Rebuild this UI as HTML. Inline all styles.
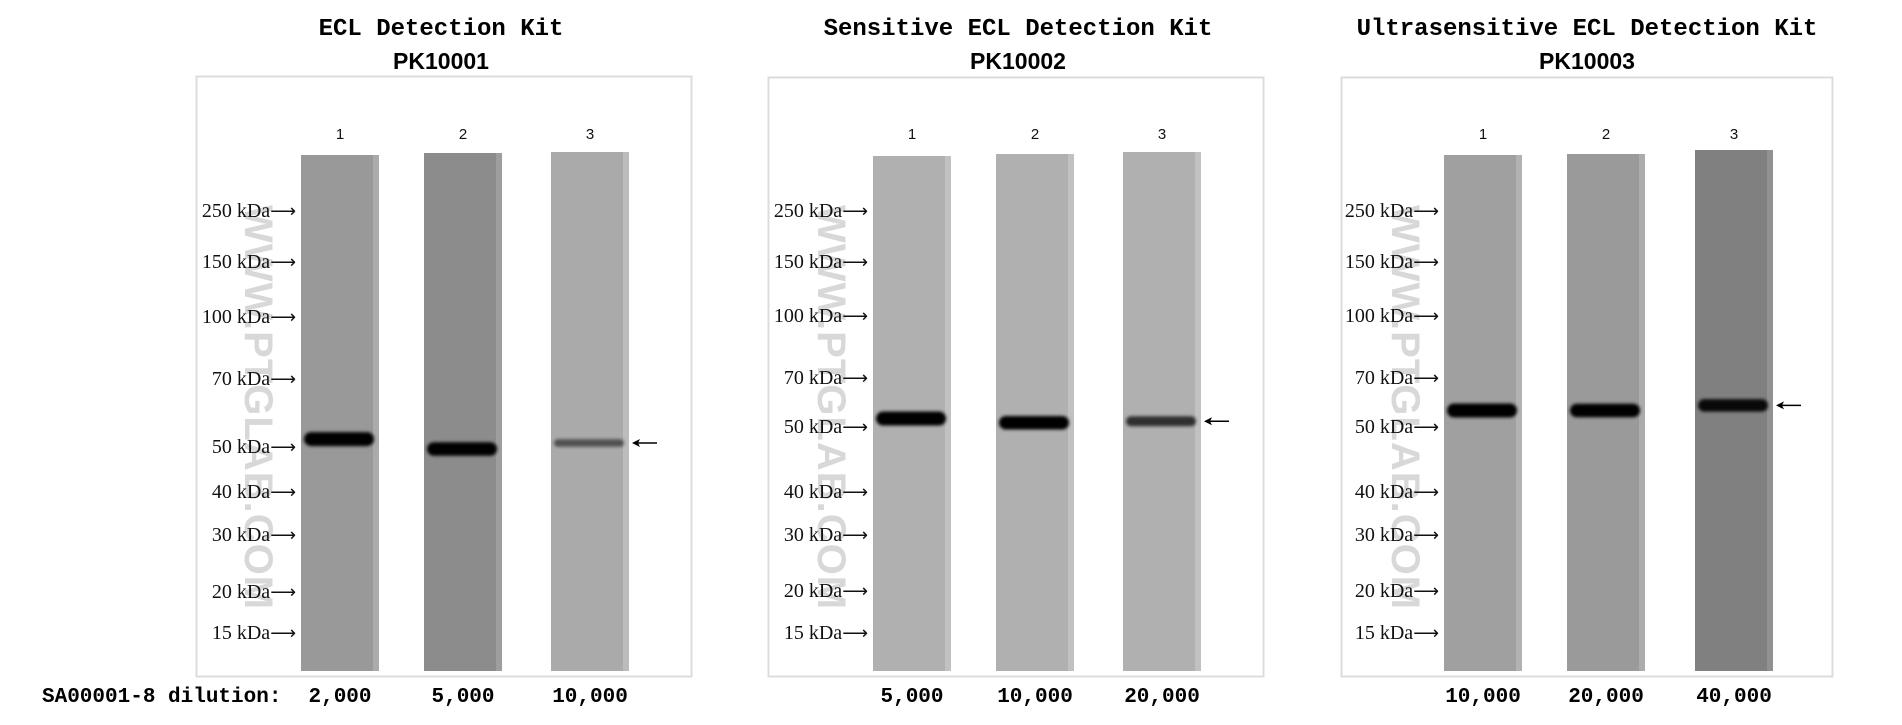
<!DOCTYPE html>
<html><head><meta charset="utf-8">
<style>
html,body{margin:0;padding:0;background:#fff;}
svg{display:block;}
.title{font-family:"Liberation Mono",monospace;font-weight:bold;font-size:24px;fill:#000;}
.pk{font-family:"Liberation Sans",sans-serif;font-weight:bold;font-size:23px;fill:#000;}
.kda{font-family:"Liberation Serif",serif;font-size:20px;fill:#111;}
.arw{font-family:"DejaVu Sans",sans-serif;font-size:18px;}
.num{font-family:"Liberation Sans",sans-serif;font-size:15px;fill:#111;}
.dil{font-family:"Liberation Mono",monospace;font-weight:bold;font-size:21px;fill:#000;}
.wm{font-family:"Liberation Sans",sans-serif;font-weight:bold;font-size:40px;fill:#ccc;opacity:0.75;}
</style></head>
<body>
<svg id="chart" width="1902" height="725" viewBox="0 0 1902 725" xmlns="http://www.w3.org/2000/svg">
<defs>
<filter id="blur" x="-10%" y="-100%" width="120%" height="300%"><feGaussianBlur stdDeviation="1.6"/></filter>
</defs>
<text x="42" y="702" class="dil">SA00001-8 dilution:</text>
</svg>
<script>
// Data
const panelTitles = ["ECL Detection Kit", "Sensitive ECL Detection Kit", "Ultrasensitive ECL Detection Kit"];
const panelCodes = ["PK10001", "PK10002", "PK10003"];
const dilutions1 = ["2,000", "5,000", "10,000"];
const dilutions2 = ["5,000", "10,000", "20,000"];
const dilutions3 = ["10,000", "20,000", "40,000"];
const markerLabels = ["250 kDa", "150 kDa", "100 kDa", "70 kDa", "50 kDa", "40 kDa", "30 kDa", "20 kDa", "15 kDa"];
const markers1 = [250, 150, 100, 70, 50, 40, 30, 20, 15];
// band intensities (0-1) per lane
const bandIntensity1 = [1.0, 0.95, 0.35];
const bandIntensity2 = [1.0, 0.95, 0.6];
const bandIntensity3 = [1.0, 0.95, 0.85];
// band apparent size (kDa)
const bandKda1 = [52, 49.5, 51];
const bandKda2 = [53, 51.5, 52];
const bandKda3 = [56, 56, 58];
// lane background gray
const laneGray1 = [153, 140, 170];
const laneGray2 = [176, 176, 176];
const laneGray3 = [160, 154, 128];

const NS = "http://www.w3.org/2000/svg";
const svg = document.getElementById("chart");
function el(tag, attrs, parent){const e=document.createElementNS(NS,tag);for(const k in attrs)e.setAttribute(k,attrs[k]);(parent||svg).appendChild(e);return e;}

const layouts = [
 {box:[196,76,691,676], cx:441, laneX:[301,424,551], laneTop:[155,153,152], laneW:78, kdaRight:296, wmX:245,
  markerY:[211,262,317,379,447,492,535,592,633]},
 {box:[768,77,1263,676], cx:1018, laneX:[873,996,1123], laneTop:[156,154,152], laneW:78, kdaRight:868, wmX:818,
  markerY:[211,262,316,378,427,492,535,591,633]},
 {box:[1341,77,1832,676], cx:1587, laneX:[1444,1567,1695], laneTop:[155,154,150], laneW:78, kdaRight:1439, wmX:1392,
  markerY:[211,262,316,378,427,492,535,591,633]}
];
const dils=[dilutions1,dilutions2,dilutions3];
const ints=[bandIntensity1,bandIntensity2,bandIntensity3];
const kdas=[bandKda1,bandKda2,bandKda3];
const grays=[laneGray1,laneGray2,laneGray3];

// kDa -> y (log-interpolated through marker positions)
function yScale(p,kda){
  const my=layouts[p].markerY; const lk=Math.log(kda);
  for(let i=0;i<markers1.length-1;i++){
    const a=Math.log(markers1[i]), b=Math.log(markers1[i+1]);
    if(lk<=a && lk>=b) return my[i]+(a-lk)/(a-b)*(my[i+1]-my[i]);
  }
  return lk>Math.log(markers1[0])?my[0]:my[my.length-1];
}

layouts.forEach((L,p)=>{
  const g=el("g",{});
  
  
  const t=el("text",{x:L.cx,y:35,"text-anchor":"middle",class:"title"},g);
  t.textContent=panelTitles[p];
  
  
  const c=el("text",{x:L.cx,y:69,"text-anchor":"middle",class:"pk"},g);
  c.textContent=panelCodes[p];
  
  
  const b=L.box;
  const r=el("rect",{x:b[0]+0.5,y:b[1]+0.5,width:b[2]-b[0],height:b[3]-b[1],fill:"#fff",stroke:"#dcdcdc","stroke-width":2},g);
  
  
  for(let i=0;i<3;i++){
    const x=L.laneX[i], top=L.laneTop[i], gv=grays[p][i];
    const lane=el("rect",{x:x,y:top,width:L.laneW,height:671-top,fill:`rgb(${gv},${gv},${gv})`},g);
    
    
    const edge=el("rect",{x:x+L.laneW-6,y:top,width:6,height:671-top,fill:`rgb(${gv+25},${gv+25},${gv+25})`,opacity:0.7},g);
    
    
    const n=el("text",{x:x+L.laneW/2,y:139,"text-anchor":"middle",class:"num"},g);
    n.textContent=String(i+1);
    
    
    const by=yScale(p,kdas[p][i]); const inten=ints[p][i];
    const h=4+inten*10;
    const band=el("rect",{x:x+3,y:by-h/2,width:L.laneW-8,height:h,rx:h/2,fill:"#000",opacity:Math.min(1,0.25+inten*0.8),filter:"url(#blur)"},g);
    
    
    const d=el("text",{x:x+L.laneW/2,y:702,"text-anchor":"middle",class:"dil"},g);
    d.textContent=dils[p][i];
    
    
  }
  // target arrow
  const ay=yScale(p,kdas[p][2]); const ax=L.laneX[2]+L.laneW+3;
  const ag=el("g",{},g);
  
  
  el("line",{x1:ax+2,y1:ay,x2:ax+25,y2:ay,stroke:"#000","stroke-width":1.5},ag);
  el("path",{d:`M${ax} ${ay} L${ax+8} ${ay-4} L${ax+6} ${ay} L${ax+8} ${ay+4} Z`,fill:"#000"},ag);
  // watermark
  const wm=el("text",{x:L.wmX,y:205,class:"wm",transform:`rotate(90 ${L.wmX} 205)`,"letter-spacing":"1"},g);
  wm.textContent="WWW.PTGLAB.COM";
  
  
  markerLabels.forEach((lab,k)=>{
    const m=el("text",{x:L.kdaRight,y:L.markerY[k]+6,"text-anchor":"end",class:"kda"},g);
    
    
    el("tspan",{},m).textContent=lab;
    el("tspan",{class:"arw"},m).textContent="⟶";
  });
});
</script>
</body></html>
